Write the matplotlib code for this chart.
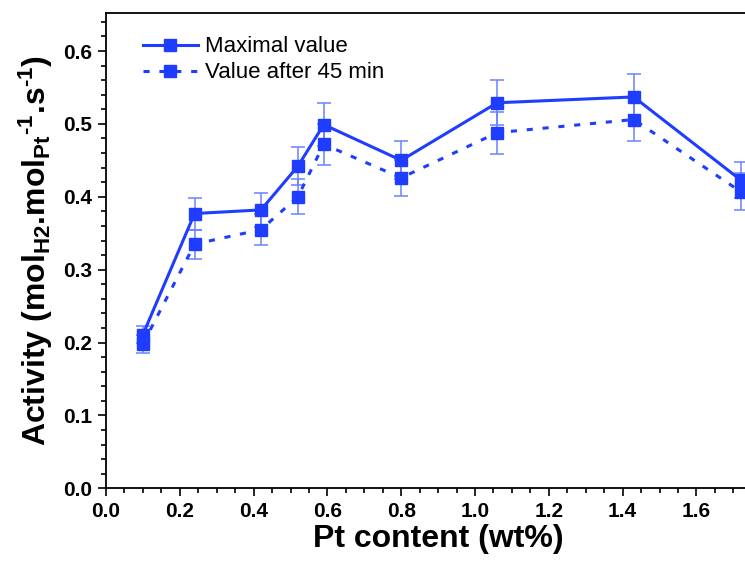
import numpy as np
import matplotlib
matplotlib.use("Agg")
import matplotlib.pyplot as plt
from matplotlib.ticker import MultipleLocator

plt.rcParams['font.family'] = ['Liberation Sans', 'DejaVu Sans']
plt.rcParams['mathtext.fontset'] = 'custom'
plt.rcParams['mathtext.rm'] = 'Liberation Sans:bold'
plt.rcParams['mathtext.bf'] = 'Liberation Sans:bold'
plt.rcParams['mathtext.it'] = 'Liberation Sans:bold'

# data
pt_content = [0.10, 0.24, 0.42, 0.52, 0.59, 0.80, 1.06, 1.43, 1.72]
maximal = [0.211, 0.377, 0.382, 0.442, 0.499, 0.450, 0.529, 0.537, 0.423]
maximal_err = [0.012, 0.022, 0.023, 0.026, 0.029, 0.026, 0.031, 0.032, 0.025]
after45 = [0.198, 0.335, 0.355, 0.400, 0.472, 0.426, 0.488, 0.506, 0.407]
after45_err = [0.012, 0.020, 0.021, 0.024, 0.028, 0.025, 0.029, 0.030, 0.025]

blue = '#1f3dff'

fig = plt.figure(figsize=(7.45, 5.61), dpi=100)
ax = fig.add_axes([0.1423, 0.1296, 0.8916, 0.8470])

e1 = ax.errorbar(pt_content, maximal, yerr=maximal_err, color=blue, lw=2.2,
                 marker='s', ms=8, ecolor='#6a82ff', elinewidth=1.1, capsize=5,
                 capthick=1.1, zorder=3)
e2 = ax.errorbar(pt_content, after45, yerr=after45_err, color=blue, lw=2.2,
                 ls=(0, (2, 3.2)), marker='s', ms=8, ecolor='#6a82ff', elinewidth=1.1,
                 capsize=5, capthick=1.1, zorder=3)

ax.set_xlim(0, 1.8)
ax.set_ylim(0, 0.652)
ax.xaxis.set_minor_locator(MultipleLocator(0.05))
ax.yaxis.set_major_locator(MultipleLocator(0.1))
ax.yaxis.set_minor_locator(MultipleLocator(0.02))
ax.set_xticks(np.arange(0, 1.61, 0.2))
ax.set_xticklabels(['%.1f' % v for v in np.arange(0, 1.61, 0.2)])
ax.tick_params(which='major', direction='out', length=6, width=1.2,
               labelsize=15, pad=4)
ax.tick_params(which='minor', direction='out', length=3.5, width=1.2)
for lab in ax.get_xticklabels() + ax.get_yticklabels():
    lab.set_fontweight('bold')
for s in ax.spines.values():
    s.set_linewidth(1.3)
ax.spines['right'].set_visible(False)

ax.set_xlabel('Pt content (wt%)', fontsize=23, fontweight='bold', labelpad=2)
ax.set_ylabel(r'Activity (mol$_{\mathrm{H2}}$.mol$_{\mathrm{Pt}}$$^{\text{-1}}$.s$^{\text{-1}}$)',
              fontsize=23, fontweight='bold', labelpad=6)

ax.legend([e1[0], e2[0]], ['Maximal value', 'Value after 45 min'],
          loc='upper left', bbox_to_anchor=(0.025, 0.993), frameon=False,
          fontsize=16, handlelength=2.5, handletextpad=0.3, labelspacing=0.22)

fig.savefig('out.png', dpi=100)
